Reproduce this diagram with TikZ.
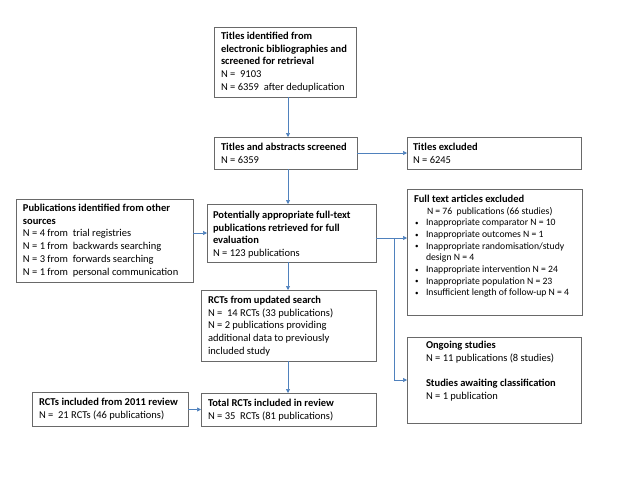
\documentclass[tikz,border=0pt]{standalone}
\usepackage{fontspec}
\setmainfont{Carlito}
\usetikzlibrary{arrows.meta}
\definecolor{lineblue}{RGB}{79,129,189}
\definecolor{boxgray}{RGB}{105,105,105}
\tikzset{
  box/.style={draw=boxgray, line width=0.8pt, inner sep=0pt, outer sep=0pt, fill=white},
  txt/.style={inner sep=0pt, outer sep=0pt, anchor=north west, align=left, font=\fontsize{10.5}{12.8}\selectfont, text=black},
  listtxt/.style={inner sep=0pt, outer sep=0pt, anchor=north west, align=left, font=\fontsize{9.7}{11.65}\selectfont, text=black},
  arr/.style={draw=lineblue, line width=0.7pt, -{Triangle[length=4pt,width=4pt]}},
  conn/.style={draw=lineblue, line width=0.7pt}
}
\newcommand{\bl}{\makebox[11pt][l]{\raisebox{0.3pt}{\fontsize{7}{7}\selectfont\textbullet}}}
\begin{document}
\begin{tikzpicture}[x=1pt,y=-1pt]
\useasboundingbox (0,0) rectangle (640,480);
% boxes
\node[box, minimum width=142, minimum height=70] (b1) at (285,62) {};
\node[box, minimum width=143, minimum height=32] (b2) at (285.5,153) {};
\node[box, minimum width=174, minimum height=32] (excl) at (494,153) {};
\node[box, minimum width=177, minimum height=83] (other) at (104.5,240.5) {};
\node[box, minimum width=169, minimum height=58] (pot) at (291.5,233) {};
\node[box, minimum width=175, minimum height=126] (full) at (494.5,252) {};
\node[box, minimum width=175, minimum height=71] (rct) at (288.5,325.5) {};
\node[box, minimum width=174, minimum height=86] (ong) at (494,380) {};
\node[box, minimum width=175, minimum height=33] (total) at (288.5,409.5) {};
\node[box, minimum width=156, minimum height=34] (r2011) at (110,409) {};
% texts
\node[txt] (t1) at (221,32) {\textbf{Titles identified from}\\\textbf{electronic bibliographies and}\\\textbf{screened for retrieval}\\N =~ 9103\\N = 6359~ after deduplication};
\node[txt] (t2) at (221,143) {\textbf{Titles and abstracts screened}\\N = 6359};
\node[txt] (texcl) at (413,143) {\textbf{Titles excluded}\\N = 6245};
\node[txt] (tother) at (23,204) {\textbf{Publications identified from other}\\\textbf{sources}\\N = 4 from~ trial registries\\N = 1 from~ backwards searching\\N = 3 from~ forwards searching\\N = 1 from~ personal communication};
\node[txt] (tpot) at (213,211) {\textbf{Potentially appropriate full-text}\\\textbf{publications retrieved for full}\\\textbf{evaluation}\\N = 123 publications};
\node[txt] (tfull) at (414,195) {\textbf{Full text articles excluded}};
\node[listtxt] (tlist) at (415,207) {\hspace*{12pt}N = 76~ publications (66 studies)\\\bl Inappropriate comparator N = 10\\\bl Inappropriate outcomes N = 1\\\bl Inappropriate randomisation/study\\\hspace*{11pt}design N = 4\\\bl Inappropriate intervention N = 24\\\bl Inappropriate population N = 23\\\bl Insufficient length of follow-up N = 4};
\node[txt] (trct) at (208,296) {\textbf{RCTs from updated search}\\N =~ 14 RCTs (33 publications)\\N = 2 publications providing\\additional data to previously\\included study};
\node[txt] (tong) at (426,341) {\textbf{Ongoing studies}\\N = 11 publications (8 studies)\\[12.8pt]\textbf{Studies awaiting classification}\\N = 1 publication};
\node[txt] (ttotal) at (208,399) {\textbf{Total RCTs included in review}\\N = 35~ RCTs (81 publications)};
\node[txt] (t2011) at (39,398) {\textbf{RCTs included from 2011 review}\\N =~ 21 RCTs (46 publications)};
% connectors
\coordinate (spine) at (288,0);
\coordinate (branch) at (394,238);
\draw[arr] (b1.south -| spine) -- (b2.north -| spine);
\draw[arr] (b2.south -| spine) -- (pot.north -| spine);
\draw[arr] (pot.south -| spine) -- (rct.north -| spine);
\draw[arr] (rct.south -| spine) -- (total.north -| spine);
\draw[arr] (b2.east) -- (excl.west);
\draw[arr] (other.east |- pot.west) -- (pot.west);
\draw[arr] (r2011.east |- total.west) -- (total.west);
\draw[conn] (pot.east |- branch) -- (branch);
\draw[arr] (branch) -- (full.west |- branch);
\draw[arr] (branch) |- (ong.west);
\end{tikzpicture}
\end{document}
